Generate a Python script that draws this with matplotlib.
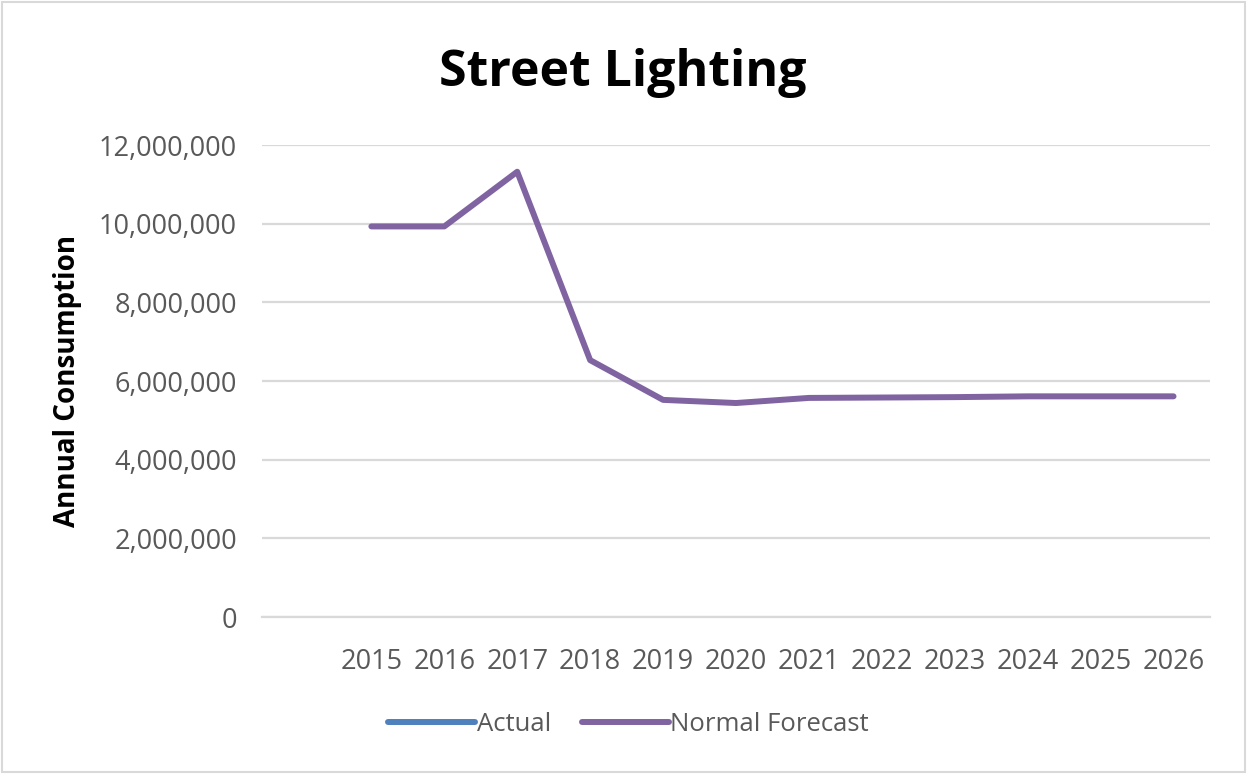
import matplotlib.pyplot as plt
from matplotlib.ticker import FuncFormatter
from matplotlib.lines import Line2D

# categories (first slot is blank in the source chart)
years = ['', '2015', '2016', '2017', '2018', '2019', '2020', '2021', '2022', '2023', '2024', '2025', '2026']
actual = [None] * 13
normal_forecast = [None, 9930000, 9930000, 11320000, 6530000, 5520000, 5440000,
                   5570000, 5580000, 5590000, 5610000, 5610000, 5610000]

plt.rcParams['font.family'] = ['Open Sans', 'DejaVu Sans']

fig = plt.figure(figsize=(12.47, 7.74), dpi=100)
ax = fig.add_axes([262 / 1247, 1 - 617 / 774, (1210 - 262) / 1247, (617 - 145) / 774])

x = list(range(len(years)))
xf = [i for i, v in zip(x, normal_forecast) if v is not None]
yf = [v for v in normal_forecast if v is not None]
xa = [i for i, v in zip(x, actual) if v is not None]
ya = [v for v in actual if v is not None]

ax.plot(xa, ya, color='#4F81BD', lw=4.3, solid_capstyle='round', solid_joinstyle='round')
ax.plot(xf, yf, color='#8064A2', lw=4.3, solid_capstyle='round', solid_joinstyle='round', zorder=3)

ax.set_xlim(-0.5, len(years) - 0.5)
ax.set_ylim(0, 12000000)
ax.set_yticks(range(0, 12000001, 2000000))
ax.yaxis.set_major_formatter(FuncFormatter(lambda v, p: f'{int(v):,}'))
ax.set_xticks(x)
ax.set_xticklabels(years)
ax.grid(axis='y', color='#D9D9D9', lw=1.6)
ax.set_axisbelow(True)
for s in ['top', 'right', 'left']:
    ax.spines[s].set_visible(False)
ax.spines['bottom'].set_color('#D9D9D9')
ax.spines['bottom'].set_linewidth(1.6)
ax.tick_params(axis='both', length=0, labelsize=19.5, colors='#595959')
ax.tick_params(axis='x', pad=22)
ax.tick_params(axis='y', pad=18)

ax.set_ylabel('Annual Consumption', fontsize=20, fontweight='bold', color='black', labelpad=12)
fig.text(0.499, 0.906, 'Street Lighting', ha='center', va='center', fontsize=36, fontweight='bold')

handles = [Line2D([], [], color='#4F81BD', lw=4.3, solid_capstyle='round'),
           Line2D([], [], color='#8064A2', lw=4.3, solid_capstyle='round')]
fig.legend(handles, ['Actual', 'Normal Forecast'], loc='center', bbox_to_anchor=(0.504, 0.064),
           ncol=2, frameon=False, fontsize=18.5, handlelength=3.4, handletextpad=0.05,
           columnspacing=1.2, labelcolor='#595959')

# light border round the chart
fig.patches.append(plt.Rectangle((0.002, 0.003), 0.996, 0.994, transform=fig.transFigure,
                                 fill=False, edgecolor='#D9D9D9', lw=1.5))

fig.savefig('out.png', dpi=100)
